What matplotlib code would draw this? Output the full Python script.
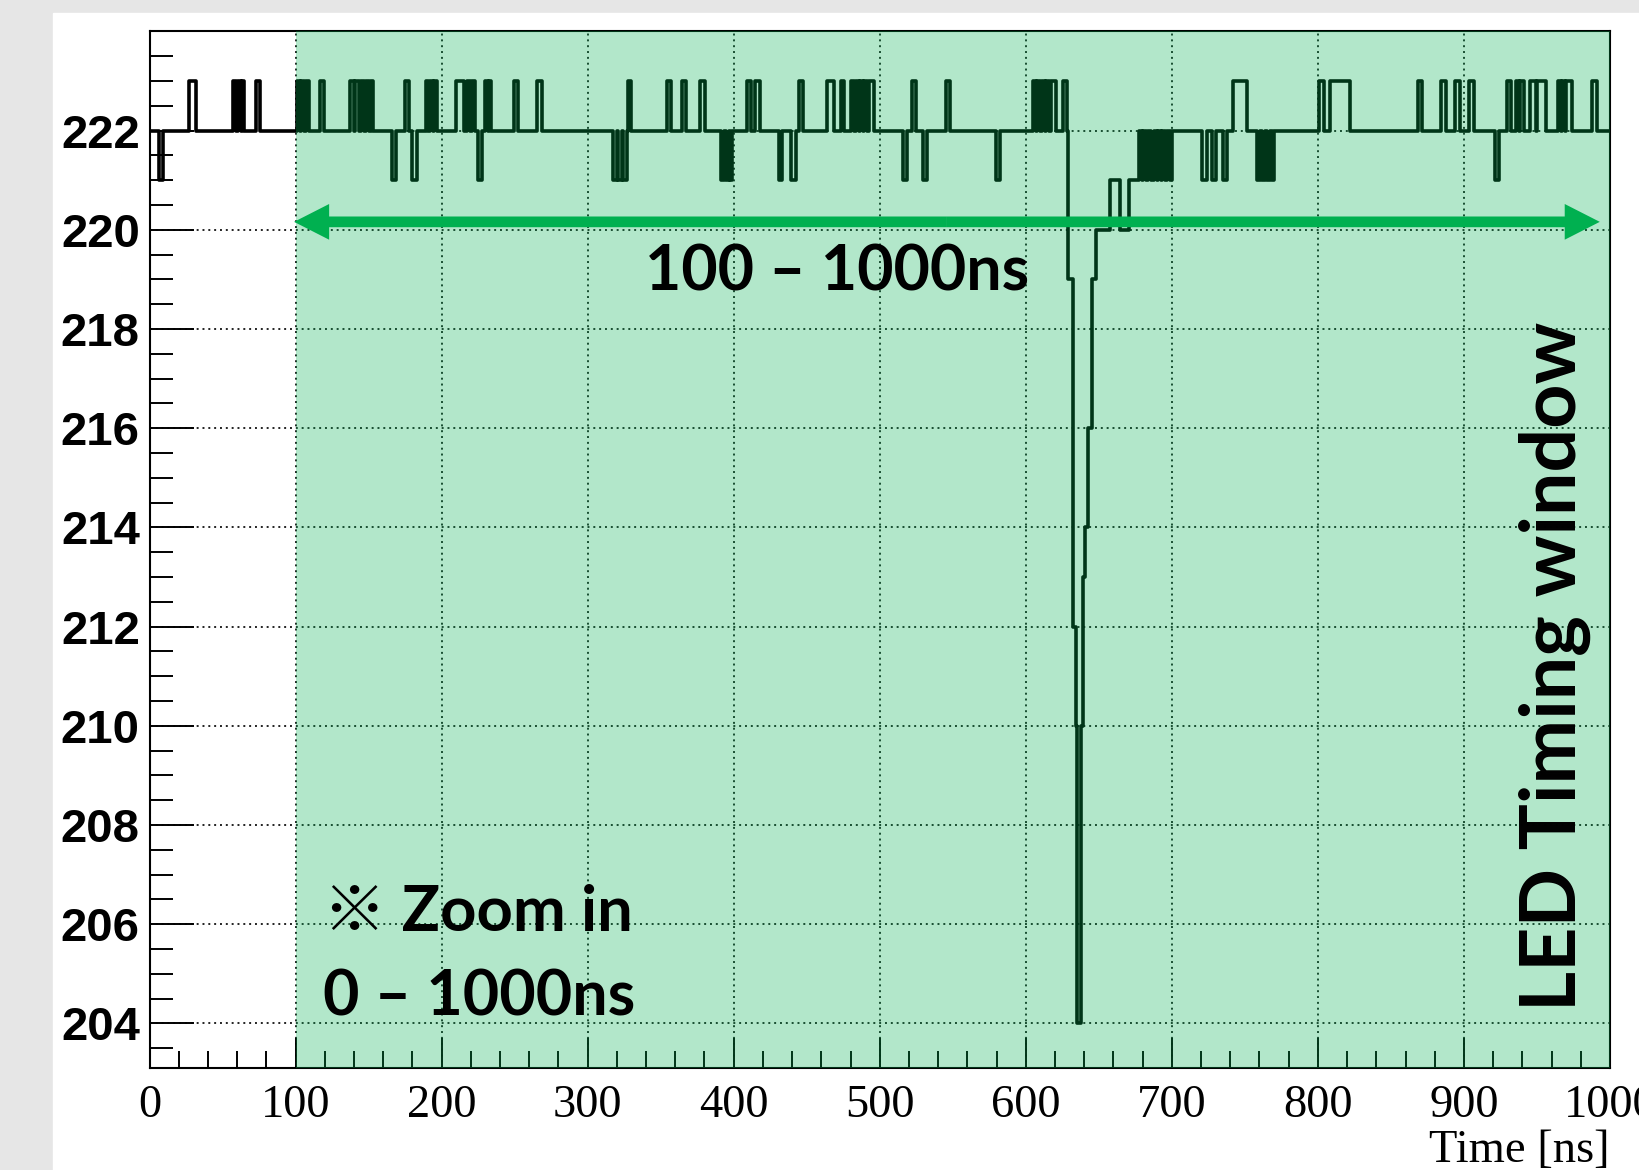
import numpy as np
import matplotlib.pyplot as plt
from matplotlib.patches import Rectangle, FancyArrow
from matplotlib.ticker import MultipleLocator

# ADC waveform (baseline 222, steps in ns)
baseline = 222
up_level = 223
down_level = 221

# pulses up to 223 (start, end) in ns
up_pulses = [
    (27, 31.5), (57.5, 59.5), (60.5, 62.5), (63.5, 64.8), (73, 76),
    (101, 103), (104, 106), (107, 109), (116.5, 119.5),
    (137.5, 140), (141, 143.5), (144.5, 147), (148, 150.5), (151.5, 153.3),
    (175.2, 177.7), (189, 191), (192, 194), (195, 197),
    (209.7, 215.3), (217.5, 219.5), (220.5, 223), (229.5, 231.5), (232.5, 233.5),
    (249.5, 252.5), (265, 268.5), (327.5, 330), (354, 356.8), (364.6, 367.5),
    (377.2, 380.1), (409, 412), (414.8, 418), (445, 447.6), (463.9, 468.7),
    (473.5, 475.5), (480.3, 482.5), (483.5, 485.5), (486.5, 488.5), (489.5, 491.5),
    (492.5, 496), (522, 524.6), (545.4, 548.1),
    (604.7, 607), (608, 610), (611, 613), (614, 616), (617, 620.5), (625.3, 628),
    (741.7, 751.7), (801, 804), (808.6, 821.8), (868.3, 871.5), (884.5, 887.5),
    (894, 897), (903.7, 907), (929.5, 932.5), (935.7, 937.7), (938.7, 941),
    (945.5, 949), (950, 956), (964.2, 966.2), (967.2, 969.2), (970.2, 973.8),
    (988, 991),
]

# pulses down to 221 (start, end) in ns
down_pulses = [
    (6.5, 9.5), (166, 169), (179.5, 182.9), (225, 228),
    (317.6, 320), (321, 323.5), (324.5, 327),
    (391.3, 393.5), (394.5, 396.5), (397.5, 399),
    (430.8, 433.3), (439.5, 442.5), (515.7, 518.9), (529.4, 532.5), (579.3, 582.3),
    (720.7, 723.8), (727.5, 730), (734.8, 738),
    (758, 760.5), (761.5, 764), (765, 767.5), (768.5, 770), (921, 924),
]

# LED signal dip and recovery
dip_times = [629.1, 632.1, 634.3, 635.0, 637.8, 639.0, 640.6, 642.9, 645.1, 648.1,
             657.5, 664.5, 671.0,
             677.5, 679.5, 680.5, 682.5, 683.5, 686.0, 687.5, 689.5, 690.5, 692.5,
             693.5, 695.5, 696.5, 698.5, 700.0]
dip_levels = [219, 212, 210, 204, 210, 213, 214, 216, 219, 220,
              221, 220, 221,
              222, 221, 222, 221, 222, 221, 222, 221, 222, 221,
              222, 221, 222, 221, 222]

xticks = np.arange(0, 1001, 100)
yticks = np.arange(204, 223, 2)

# build the step waveform from the read change points
events = [(0.0, baseline)]
for s, e in up_pulses:
    events += [(s, up_level), (e, baseline)]
for s, e in down_pulses:
    events += [(s, down_level), (e, baseline)]
events += list(zip(dip_times, dip_levels))
events.append((1000.0, baseline))
events.sort()
t, v = zip(*events)

fig = plt.figure(figsize=(16.39, 11.70), dpi=100, facecolor="#e6e6e6")
fig.patches.append(Rectangle((53 / 1639, 0), 1, 1 - 12.5 / 1170,
                             transform=fig.transFigure, color="white", zorder=-10))
ax = fig.add_axes([149.5 / 1639, 1 - 1068 / 1170, 1460.5 / 1639, 1036.6 / 1170])
ax.set_zorder(1)
ax.patch.set_alpha(0)

ax.step(t, v, where="post", color="black", lw=2.6, zorder=2)

# LED timing window shading (covers line, grid and ticks)
ax.axvspan(100, 1000, color="#00B050", alpha=0.3, lw=0, zorder=3)

ax.set_xlim(0, 1000)
ax.set_ylim(203.1, 224.0)
ax.set_xticks(xticks)
ax.set_yticks(yticks)
ax.xaxis.set_minor_locator(MultipleLocator(20))
ax.yaxis.set_minor_locator(MultipleLocator(0.5))
ax.grid(True, which="major", color="#222222", lw=1.4, linestyle=(0, (1, 2)))
ax.set_axisbelow(True)

ax.tick_params(axis="x", which="major", direction="in", length=21.6, width=1.4,
               top=False, pad=12, labelsize=33.5)
ax.tick_params(axis="x", which="minor", direction="in", length=12.2, width=1.4, top=False)
ax.tick_params(axis="y", which="major", direction="in", length=31.7, width=1.4,
               right=False, pad=7, labelsize=34)
ax.tick_params(axis="y", which="minor", direction="in", length=16.6, width=1.4, right=False)
for lbl in ax.get_xticklabels():
    lbl.set_fontfamily("Liberation Serif")
for lbl in ax.get_yticklabels():
    lbl.set_fontfamily("Liberation Sans")
    lbl.set_fontweight("bold")
for sp in ax.spines.values():
    sp.set_linewidth(1.5)

ax.set_xlabel("Time [ns]", loc="right", fontsize=33.5, family="Liberation Serif")
ax.xaxis.set_label_coords(1.0, -0.059)

# double arrow for the window
arrow_y = 220.16
arrow_left, arrow_right = 99, 993
mid = (arrow_left + arrow_right) / 2
for end in (arrow_left, arrow_right):
    ax.add_patch(FancyArrow(mid, arrow_y, end - mid, 0, width=0.216,
                            head_width=0.72, head_length=24, length_includes_head=True,
                            color="#00B050", lw=0, zorder=5))

fam = ["Lato", "Noto Sans CJK JP", "DejaVu Sans"]
t1 = ax.text(470.7, 218.78, "100 – 1000ns", ha="center", va="baseline",
             fontsize=45, fontweight="bold", family=fam, zorder=6)
t2 = ax.text(119, 205.86, "※ Zoom in", ha="left", va="baseline",
             fontsize=45, fontweight="bold", family=fam, zorder=6)
t3 = ax.text(119, 204.16, "0 – 1000ns", ha="left", va="baseline",
             fontsize=45, fontweight="bold", family=fam, zorder=6)
t4 = ax.text(976.7, 204.25, "LED Timing window", rotation=90, rotation_mode="anchor",
             ha="left", va="baseline", fontsize=55, fontweight="bold", family=fam, zorder=6)

# scale annotation fonts to the widths in the picture
fig.canvas.draw()
r = fig.canvas.get_renderer()
for txt, target, horiz in [(t1, 384, True), (t2, 310, True), (t3, 312, True), (t4, 688, False)]:
    bb = txt.get_window_extent(renderer=r)
    cur = bb.width if horiz else bb.height
    txt.set_fontsize(txt.get_fontsize() * target / cur)

fig.savefig("out.png", dpi=100, facecolor=fig.get_facecolor())
